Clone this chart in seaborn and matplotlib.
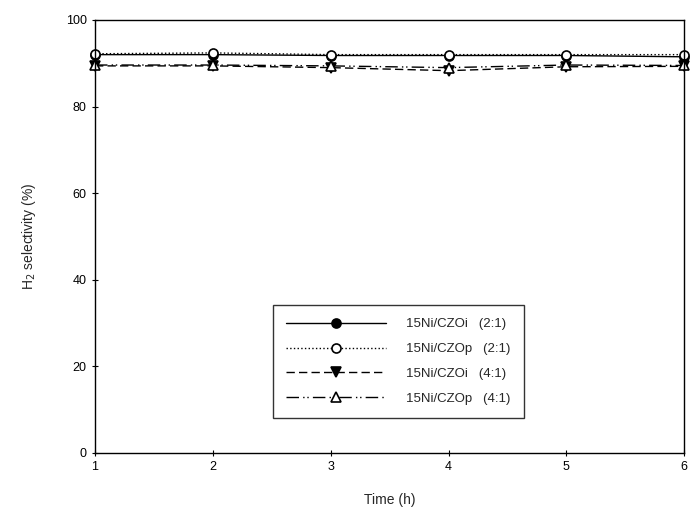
import numpy as np
import pandas as pd
import seaborn as sns
from matplotlib import pyplot as plt

sns.set_style("white")
plt.rcParams['font.family'] = ['Liberation Sans', 'DejaVu Sans']

time_h = [1, 2, 3, 4, 5, 6]
ni_czoi_21 = [92.0, 92.0, 91.8, 91.8, 91.8, 91.5]
ni_czop_21 = [92.2, 92.4, 92.0, 92.0, 92.0, 92.0]
ni_czoi_41 = [89.4, 89.4, 89.0, 88.3, 89.2, 89.3]
ni_czop_41 = [89.6, 89.6, 89.4, 89.0, 89.6, 89.5]

labels = ['15Ni/CZOi   (2:1)', '15Ni/CZOp   (2:1)',
          '15Ni/CZOi   (4:1)', '15Ni/CZOp   (4:1)']

df = pd.DataFrame({
    'time': time_h * 4,
    'sel': ni_czoi_21 + ni_czop_21 + ni_czoi_41 + ni_czop_41,
    'series': np.repeat(labels, len(time_h)),
})

styles = [
    dict(linestyle='-', marker='o', mfc='black'),
    dict(linestyle=':', marker='o', mfc='white'),
    dict(linestyle=(0, (6, 3)), marker='v', mfc='black'),
    dict(linestyle=(0, (9, 3, 1, 2, 1, 3)), marker='^', mfc='white'),
]

fig = plt.figure(figsize=(6.96, 5.29), dpi=100)
ax = fig.add_axes([0.1365, 0.1437, 0.8465, 0.8185])

for lab, st in zip(labels, styles):
    sub = df[df['series'] == lab]
    sns.lineplot(data=sub, x='time', y='sel', ax=ax, color='black', lw=1.0,
                 linestyle=st['linestyle'], marker=st['marker'],
                 markerfacecolor=st['mfc'], markeredgecolor='black',
                 markersize=6.5, markeredgewidth=1.2, label=lab, clip_on=False)

ax.set_xlim(1, 6)
ax.set_ylim(0, 100)
ax.set_xticks(time_h)
ax.set_yticks([0, 20, 40, 60, 80, 100])
ax.tick_params(axis='both', direction='inout', length=5, width=0.8,
               labelsize=9, colors='black', left=True, bottom=True)
for s in ax.spines.values():
    s.set_color('black')
    s.set_linewidth(1.0)

ax.set_xlabel('Time (h)', fontsize=10, labelpad=14)
ax.set_ylabel('H$_2$ selectivity (%)', fontsize=10, labelpad=20)

leg = ax.legend(loc='lower left', bbox_to_anchor=(0.302, 0.081), fontsize=9.5,
                handlelength=7.6, frameon=True, fancybox=False,
                edgecolor='black', borderpad=1.0, labelspacing=0.95,
                handletextpad=1.5, borderaxespad=0)
leg.get_frame().set_linewidth(1.0)

fig.savefig('out.png', dpi=100)
